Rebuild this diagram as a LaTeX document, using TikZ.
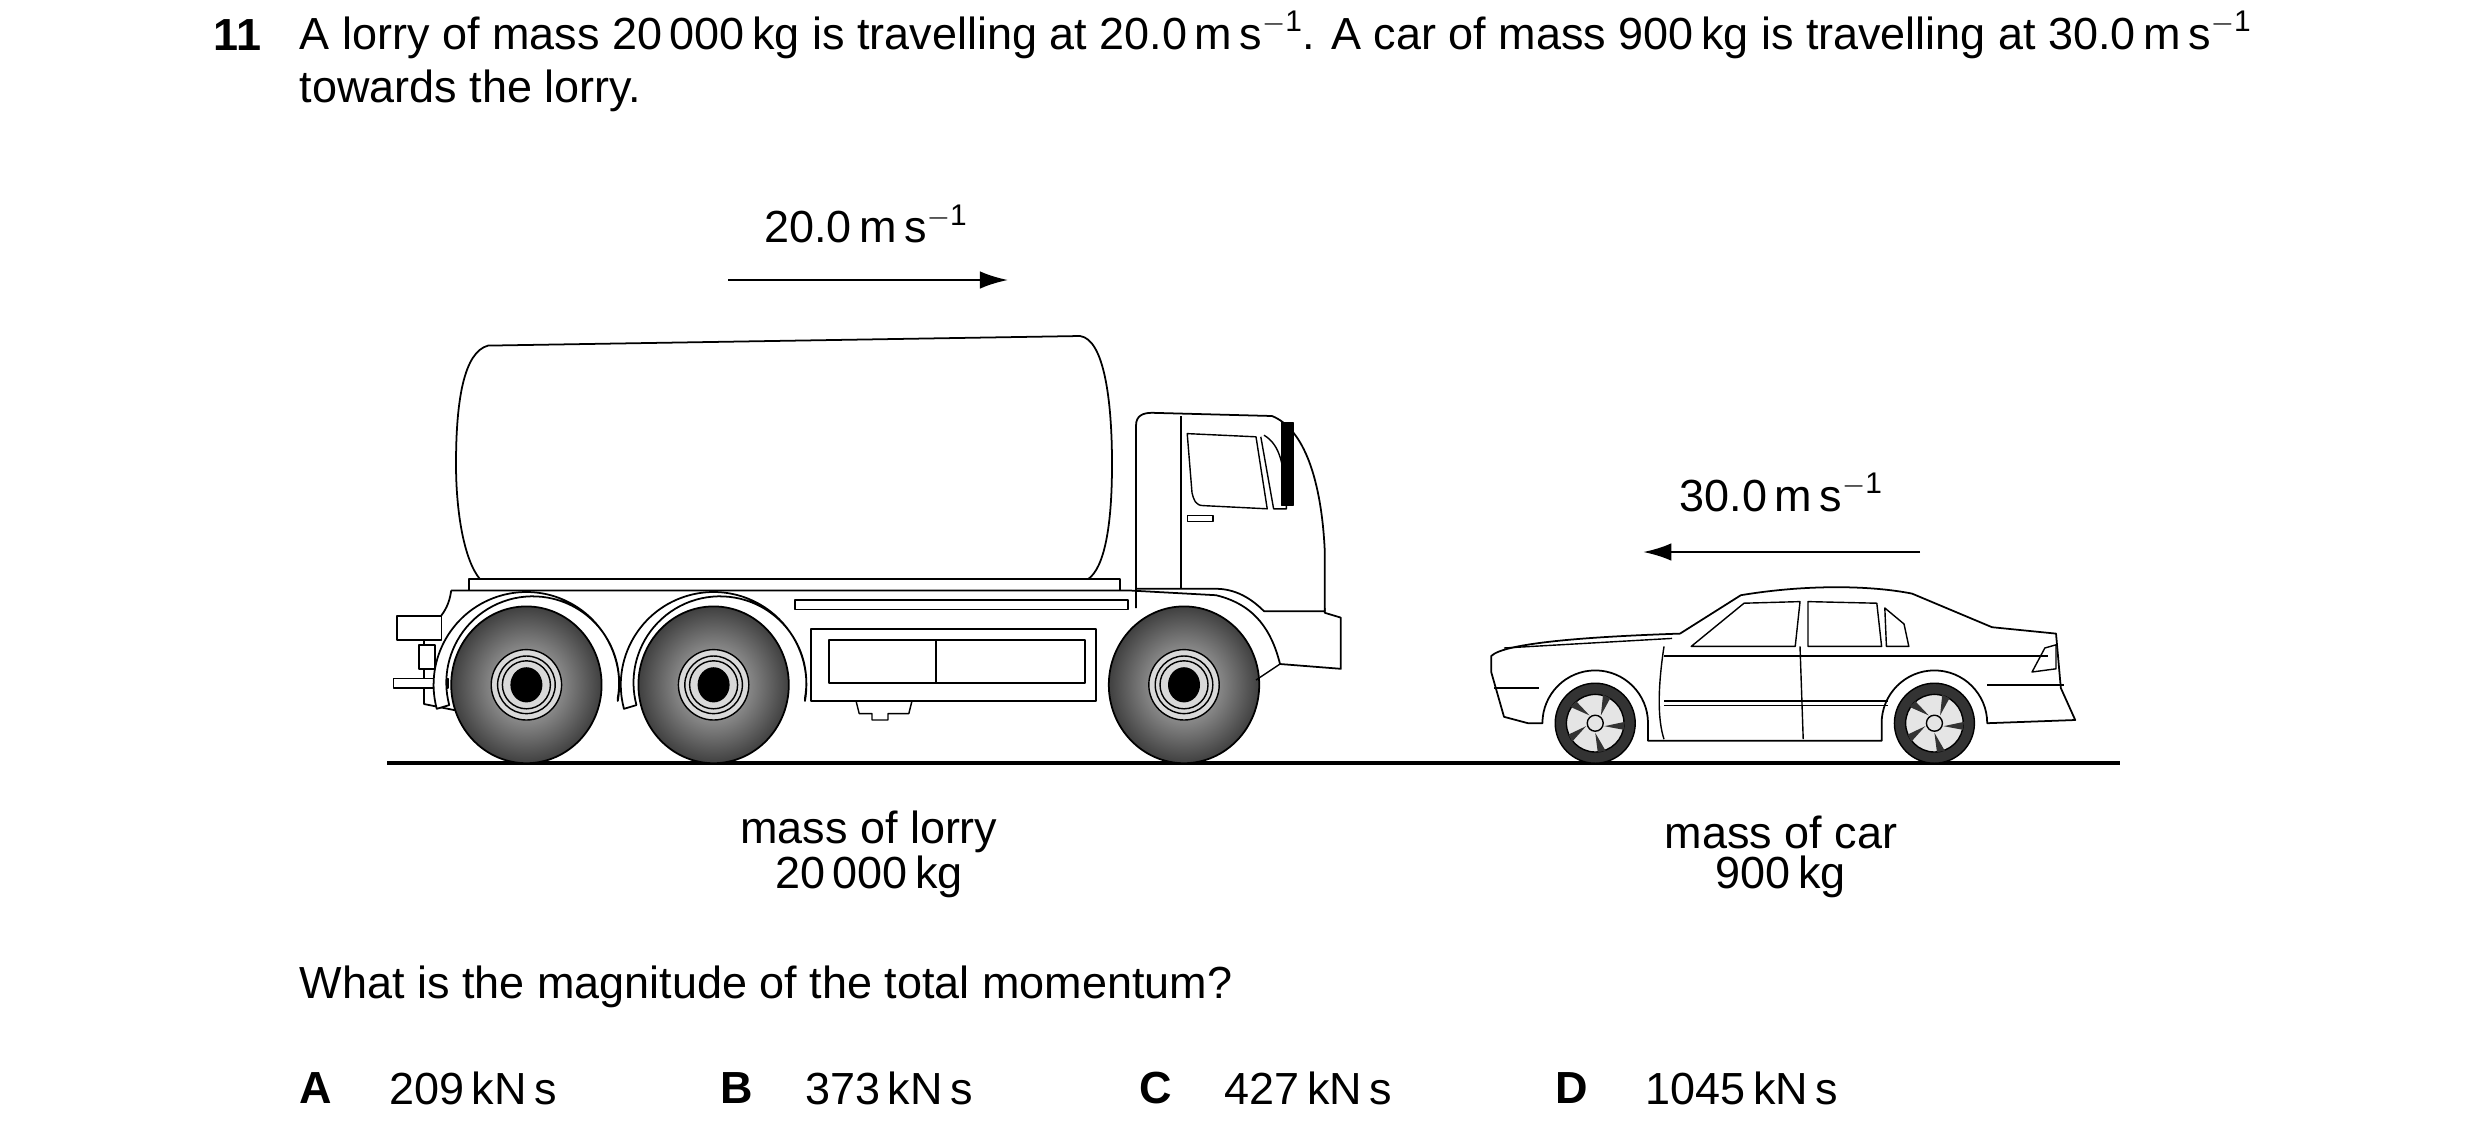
\documentclass[tikz,border=0pt]{standalone}
\usepackage{fontspec}
\setmainfont{Liberation Sans}
\usetikzlibrary{calc,arrows.meta}

\tikzset{
  txt/.style={font=\fontsize{12.8}{15}\selectfont, inner sep=0pt},
  body/.style={draw=black, line width=0.5pt, fill=white},
  tyre/.style={draw=black, line width=0.5pt, shading=radial, inner color=gray!45, outer color=black!75},
  speed/.style={-{Latex[length=8pt,width=5pt]}, line width=0.7pt},
}
\newcommand{\ms}{\,m\,s\raisebox{0.75ex}{\fontsize{8.5}{10}\selectfont$-$1}}

\begin{document}
\begin{tikzpicture}[x=0.016cm, y=-0.016cm, line join=round]
\useasboundingbox (0,0) rectangle (1550,705.6);

% --- question text -------------------------------------------------
\node[txt, font=\fontsize{12.8}{15}\selectfont\bfseries, anchor=west] (num) at (133,22) {11};
\node[txt, anchor=west] (q1) at (187,22) {A lorry of mass 20\,000\,kg is travelling at 20.0\ms. A car of mass 900\,kg is travelling at 30.0\ms};
\node[txt, anchor=west] (q2) at (187,57) {towards the lorry.};

% --- ground --------------------------------------------------------
\draw[line width=1.2pt] (242,477) -- (1325,477);

% --- speed arrows --------------------------------------------------
\coordinate (a1) at (455,175);
\coordinate (b1) at (630,175);
\draw[speed] (a1) -- (b1);
\node[txt] (v1) at (541,140) {20.0\ms};
\coordinate (a2) at (1200,345);
\coordinate (b2) at (1027,345);
\draw[speed] (a2) -- (b2);
\node[txt] (v2) at (1113,308) {30.0\ms};

% === lorry =========================================================
% tank
\draw[body] (305,216) -- (675,210) .. controls (690,212) and (695,250) .. (695,290)
  .. controls (695,330) and (690,355) .. (680,362) -- (300,362)
  .. controls (290,350) and (285,320) .. (285,290) .. controls (285,250) and (290,220) .. (305,216) -- cycle;
\draw[body] (293,362) rectangle (700,369);
% lower body
\draw[body] (282,369) -- (705,369) -- (760,372) .. controls (785,378) and (795,395) .. (800,415)
  -- (838,418) -- (838,386) -- (828,383) -- (828,380);
\draw[body] (282,369) .. controls (280,385) and (270,390) .. (265,395) -- (265,440) -- (290,445);
% rear lights
\draw[body] (248,385) rectangle (276,400);
\draw[body] (262,403) rectangle (272,418);
\draw[body] (246,424) rectangle (280,430);
% cab
\draw[body] (710,380) -- (710,266) .. controls (710,260) and (714,258) .. (720,258)
  -- (795,260) .. controls (815,268) and (826,300) .. (828,345) -- (828,382) -- (790,382)
  .. controls (780,372) and (770,368) .. (760,368) -- (710,368);
\draw (738,260) -- (738,368);
\draw (742,271) -- (785,273) -- (792,318) -- (752,316) .. controls (747,316) and (746,312) .. (745,308) -- cycle;
\draw (788,273) -- (796,318) -- (804,318) .. controls (803,290) and (800,278) .. (790,272);
\draw[fill=black] (801,264) rectangle (808,316);
\draw (742,322) rectangle (758,326);
% rail and side box
\draw[body] (497,375) rectangle (705,381);
\draw[body] (507,393) rectangle (685,438);
\draw[body] (518,400) rectangle (678,427);
\draw (585,400) -- (585,427);
\draw (535,438) -- (537,446) -- (545,446) -- (545,450) -- (555,450) -- (555,446) -- (568,446) -- (570,438);
% mudguards and wheels
\foreach \cx/\nm in {329/w1, 446/w2, 740/w3}{
  \ifnum\cx<700
    \draw[body] (\cx,428) ++(165:58) arc (165:370:58) -- ++(-90:2) arc (370:165:54) -- cycle;
  \fi
  \coordinate (\nm) at (\cx,428);
  \draw[tyre] (\nm) ellipse (47 and 49);
  \draw[fill=gray!30] (\nm) circle (22);
  \draw (\nm) circle (18);
  \draw (\nm) circle (15);
  \fill[black] (\nm) ellipse (10 and 11);
}
\draw (785,425) -- (800,415);

% === car ===========================================================
\coordinate (cw1) at (997,452);
\coordinate (cw2) at (1209,452);
\draw[body] (932,420) -- (932,410) .. controls (940,402) and (990,398) .. (1050,396)
  -- (1088,372) .. controls (1130,365) and (1170,366) .. (1195,371) -- (1245,392)
  -- (1285,396) -- (1288,430) -- (1297,450) -- (1242,452)
  arc (0:-180:33) -- (1176,463) -- (1030,463) -- (1030,452) arc (0:-180:33) -- (955,452) -- (940,448) -- cycle;
\draw (940,405) -- (1045,399);
\draw (1057,404) -- (1090,377) -- (1125,376) -- (1122,404) -- cycle;
\draw (1130,376) -- (1173,377) -- (1176,404) -- (1130,404) -- cycle;
\draw (1178,380) -- (1190,390) -- (1193,404) -- (1179,404) -- cycle;
\draw (1040,404) .. controls (1036,430) and (1036,450) .. (1040,462);
\draw (1125,404) -- (1127,462);
\draw (1040,410) -- (1280,410);
\draw (1040,438) -- (1180,438);
\draw (1040,441) -- (1180,441);
\draw (934,430) -- (962,430);
\draw (1242,428) -- (1290,428);
\draw (1270,420) -- (1285,418) -- (1285,403) -- (1278,405) -- cycle;
\foreach \nm in {cw1, cw2}{
  \draw[fill=black!80] (\nm) circle (25);
  \draw[fill=gray!20] (\nm) circle (18);
  \foreach \a in {0,72,...,288}
    \fill[black!80] (\nm) ++(\a+90:6) -- ++(\a+60:13) -- ++(\a+170:5) -- cycle;
  \draw[fill=gray!20] (\nm) circle (5);
}

% --- mass labels ---------------------------------------------------
\node[txt] (ml1) at (543,520) {mass of lorry};
\node[txt] (ml2) at (543,548) {20\,000\,kg};
\node[txt] (mc1) at (1113,520) {mass of car};
\node[txt] (mc2) at (1113,548) {900\,kg};

% --- question and options -----------------------------------------
\node[txt, anchor=west] (qq) at (187,617) {What is the magnitude of the total momentum?};
\foreach \l/\lx/\v/\vx in {A/187/209/243, B/450/373/503, C/712/427/765, D/972/1045/1028}{
  \node[txt, font=\fontsize{12.8}{15}\selectfont\bfseries, anchor=west] (opt\l) at (\lx,680) {\l};
  \node[txt, anchor=west] (val\l) at (\vx,680) {\v\,kN\,s};
}
\end{tikzpicture}
\end{document}
